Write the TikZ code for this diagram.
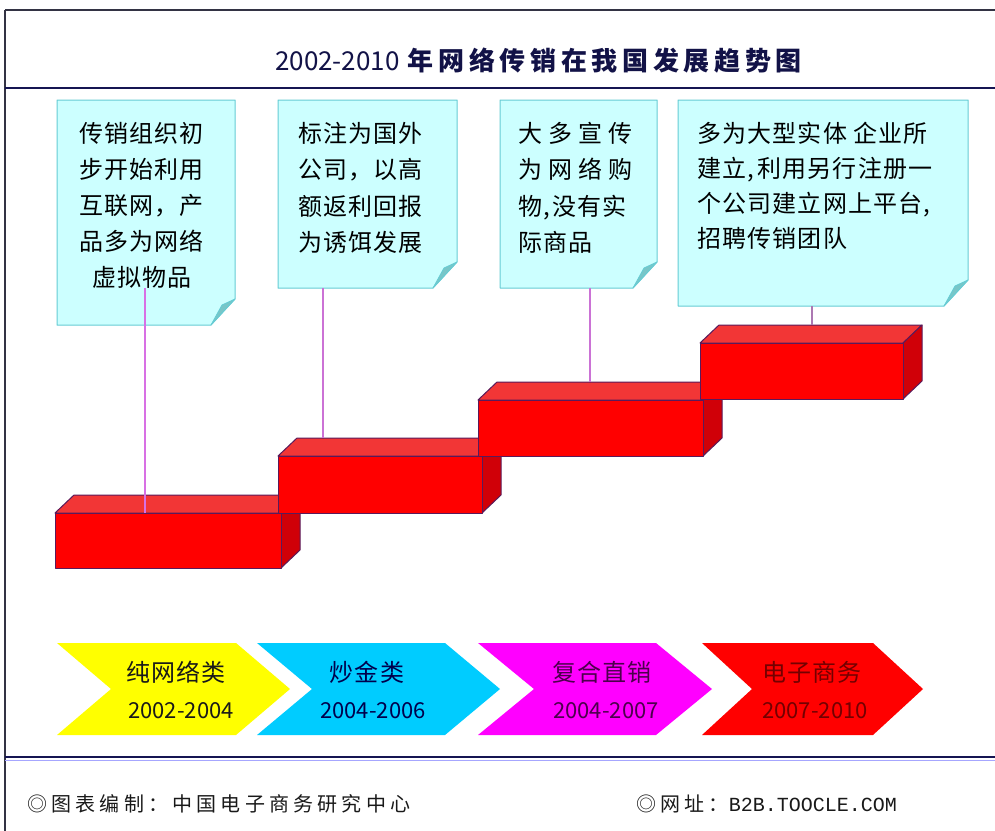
\documentclass[tikz,border=0pt]{standalone}
\usepackage{fontspec}
\newfontfamily\cjk{Noto Sans CJK SC}
\newfontfamily\cjkbox[LetterSpace=5]{Noto Sans CJK SC}
\newfontfamily\cjktit[LetterSpace=18]{Noto Sans CJK SC}
\newfontfamily\cjkfoot[LetterSpace=21]{Noto Sans CJK SC}
\newfontfamily\monofoot{Liberation Mono}
\definecolor{calloutfill}{HTML}{CCFFFF}
\definecolor{calloutedge}{HTML}{66CCD4}
\definecolor{foldfill}{HTML}{78C6C8}
\definecolor{pincol}{HTML}{D870E4}
\definecolor{redfront}{HTML}{FF0000}
\definecolor{redtop}{HTML}{F23636}
\definecolor{redside}{HTML}{D00008}
\definecolor{blockedge}{HTML}{5A1A5A}
\definecolor{titlenavy}{HTML}{1A1A66}
\definecolor{framecol}{HTML}{333344}
\definecolor{chevyellow}{HTML}{FFFF00}
\definecolor{chevcyan}{HTML}{00CCFF}
\definecolor{chevmagenta}{HTML}{FF00FF}
\definecolor{chevred}{HTML}{FF0000}
\tikzset{
  calloutbox/.style={draw=calloutedge, fill=calloutfill, line width=1pt, line join=round},
  foldtri/.style={draw=calloutedge, fill=foldfill, line width=0.8pt, line join=round},
  boxfront/.style={fill=redfront, draw=blockedge, line width=1pt, line join=round},
  boxtop/.style={fill=redtop, draw=blockedge, line width=1pt, line join=round},
  boxside/.style={fill=redside, draw=blockedge, line width=1pt, line join=round},
  pinline/.style={draw=pincol, line width=1.6pt},
  notetext/.style={font=\cjkbox\fontsize{24}{28}\selectfont, anchor=base west, inner sep=0pt, text=black},
  chevname/.style={font=\cjkbox\fontsize{24}{28}\selectfont, anchor=base, inner sep=0pt},
  chevyear/.style={font=\cjk\fontsize{22}{26}\selectfont, anchor=base, inner sep=0pt},
  frameline/.style={draw=framecol, line width=1.5pt},
}
\newcommand{\notebox}[4]{%
  \draw[calloutbox] (#1,#2) -- (#3,#2) -- (#3,#4-26) -- (#3-24,#4) -- (#1,#4) -- cycle;
  \draw[foldtri] (#3,#4-26) -- (#3-24,#4) -- (#3-13,#4-20) -- cycle;
}
\newcommand{\stepblock}[4]{%
  \draw[boxtop] (#1,#2) -- (#1+19,#2-18) -- (#1+#3+19,#2-18) -- (#1+#3,#2) -- cycle;
  \draw[boxside] (#1+#3,#2) -- (#1+#3+19,#2-18) -- (#1+#3+19,#2+#4-18) -- (#1+#3,#2+#4) -- cycle;
  \draw[boxfront] (#1,#2) rectangle (#1+#3,#2+#4);
}
\newcommand{\chevron}[4]{%
  \fill[#4] (#1,643) -- (#1+#2-#3,643) -- (#1+#2,689) -- (#1+#2-#3,735) -- (#1,735) -- (#1+#3,689) -- cycle;
}
\begin{document}
\begin{tikzpicture}[x=1pt,y=-1pt]
\useasboundingbox (0,0) rectangle (995,830);
\fill[white] (0,0) rectangle (995,830);
% frame
\draw[frameline] (5,10) -- (996,10);
\draw[frameline] (5,10) -- (5,831);
\draw[draw=titlenavy!80!black, line width=2.2pt] (5,88) -- (996,88);
\draw[draw=titlenavy!80!black, line width=1.6pt] (5,757) -- (996,757);
\draw[draw=blue!35!white, line width=1pt] (5,760) -- (996,760);
% title
\node[anchor=base west, inner sep=0pt, text=titlenavy!70!black] (title) at (275,70)
  {{\cjk\fontsize{26}{30}\selectfont 2002-2010\hspace{8pt}}{\cjktit\fontsize{26}{30}\selectfont\bfseries 年网络传销在我国发展趋势图}};
% callouts
\notebox{57}{100}{235}{325}
\notebox{278}{100}{457}{288}
\notebox{500}{100}{657}{288}
\notebox{678}{100}{968}{306}
% callout texts
\foreach \t [count=\i] in {传销组织初,步开始利用,互联网，产,品多为网络}
  \node[notetext] (na\i) at (79,142+36*\i-36) {\t};
\node[notetext] (na5) at (92,286) {虚拟物品};
\foreach \t [count=\i] in {标注为国外,公司，以高,额返利回报,为诱饵发展}
  \node[notetext] (nb\i) at (298,142+36.5*\i-36.5) {\t};
\node[notetext] (nc1) at (518,142) {大\hspace{6pt}多\hspace{6pt}宣\hspace{6pt}传};
\node[notetext] (nc2) at (518,178.5) {为\hspace{6pt}网\hspace{6pt}络\hspace{6pt}购};
\node[notetext] (nc3) at (518,215) {物,\hspace{2pt}没有实};
\node[notetext] (nc4) at (518,251.5) {际商品};
\node[notetext] (nd1) at (697,142) {多为大型实体\hspace{6pt}企业所};
\node[notetext] (nd2) at (697,177) {建立,\hspace{3pt}利用另行注册一};
\node[notetext] (nd3) at (697,212) {个公司建立网上平台,};
\node[notetext] (nd4) at (697,247) {招聘传销团队};
% blocks
\stepblock{55}{513}{226}{55}
\stepblock{278}{456}{204}{57}
\stepblock{478}{400}{225}{56}
\stepblock{700}{343}{203}{56}
% connectors
\coordinate (p1a) at (145,288); \coordinate (p1b) at (145,513);
\coordinate (p2a) at (323,288); \coordinate (p2b) at (323,438);
\coordinate (p3a) at (590,288); \coordinate (p3b) at (590,382);
\coordinate (p4a) at (812,306); \coordinate (p4b) at (812,325);
\draw[pinline] (p1a) -- (p1b);
\draw[pinline, draw=pincol!85!gray] (p2a) -- (p2b);
\draw[pinline, draw=pincol!85!gray] (p3a) -- (p3b);
\draw[pinline, draw=pincol!50!gray, line width=1.2pt] (p4a) -- (p4b);
% chevrons
\chevron{57}{233}{54}{chevyellow}
\chevron{257}{243}{55}{chevcyan}
\chevron{478}{234}{56}{chevmagenta}
\chevron{702}{221}{50}{chevred}
\node[chevname, text=black!90] (ca) at (176,681) {纯网络类};
\node[chevyear, text=black!90] (cay) at (181,718) {2002-2004};
\node[chevname, text=blue!30!black] (cb) at (367,681) {炒金类};
\node[chevyear, text=blue!30!black] (cby) at (373,718) {2004-2006};
\node[chevname, text=violet!60!black] (cc) at (602,681) {复合直销};
\node[chevyear, text=violet!60!black] (ccy) at (606,718) {2004-2007};
\node[chevname, text=red!45!black] (cd) at (812,681) {电子商务};
\node[chevyear, text=red!45!black] (cdy) at (815,718) {2007-2010};
% footer
\node[anchor=base west, inner sep=0pt, text=black!90, font=\cjkfoot\fontsize{20}{24}\selectfont] (fl) at (27,811) {◎图表编制：中国电子商务研究中心};
\node[anchor=base west, inner sep=0pt, text=black!90] (fr) at (636,811) {{\cjkfoot\fontsize{20}{24}\selectfont ◎网址：}{\monofoot\fontsize{20}{24}\selectfont B2B.TOOCLE.COM}};
\end{tikzpicture}
\end{document}
